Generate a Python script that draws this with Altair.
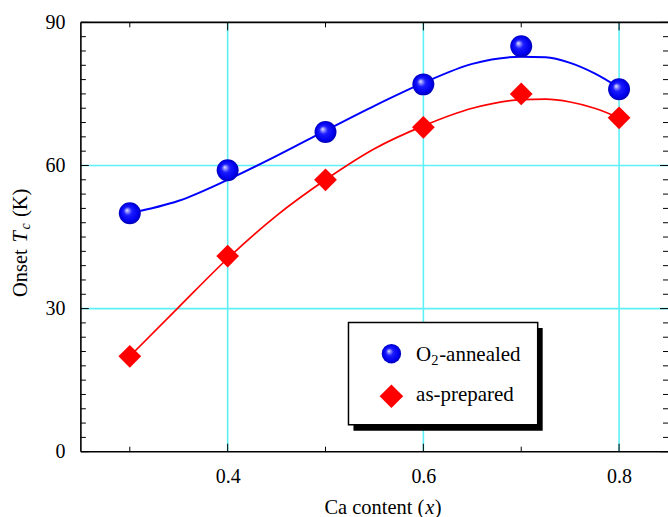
import altair as alt
import pandas as pd

# ---- data ----
ca = [0.3, 0.4, 0.5, 0.6, 0.7, 0.8]
tc_annealed = [50, 59, 67, 77, 85, 76]
tc_prepared = [20, 41, 57, 68, 75, 70]

fit_x = [0.30, 0.35, 0.40, 0.45, 0.50, 0.55, 0.60, 0.65, 0.70, 0.725, 0.75, 0.775, 0.80]
fit_annealed = [50.0, 52.6, 57.0, 62.0, 67.3, 72.5, 77.3, 81.3, 82.8, 82.7, 81.5, 79.3, 76.3]
fit_prepared = [20.0, 30.3, 40.5, 49.5, 57.0, 63.5, 68.3, 72.0, 73.8, 73.9, 73.3, 72.0, 70.0]

series = ["O2-annealed", "as-prepared"]
x_major = [0.4, 0.6, 0.8]
x_minor = [0.3, 0.5, 0.7]
y_major = [0, 30, 60, 90]
y_minor = [3, 6, 9, 12, 15, 18, 21, 24, 27, 33, 36, 39, 42, 45, 48, 51, 54, 57,
           63, 66, 69, 72, 75, 78, 81, 84, 87]
grid_x = [0.4, 0.6, 0.8]
grid_y = [30, 60]

W, H = 588, 430
FONT = "Liberation Serif"
CYAN = "#5ef0f6"

pts = pd.DataFrame({"x": ca * 2,
                    "y": tc_annealed + tc_prepared,
                    "s": [series[0]] * len(ca) + [series[1]] * len(ca)})
fit_a = pd.DataFrame({"x": fit_x, "y": fit_annealed})
fit_p = pd.DataFrame({"x": fit_x, "y": fit_prepared})
one = pd.DataFrame({"k": [0]})

xs = alt.Scale(domain=[0.25, 0.85], nice=False, zero=False)
ys = alt.Scale(domain=[0, 90], nice=False, zero=True)
xaxis = alt.Axis(values=x_major, format=".1f", grid=False, ticks=False, domain=False,
                 labelFont=FONT, labelFontSize=20, labelColor="black", labelPadding=15,
                 title=None)
yaxis = alt.Axis(values=y_major, format="d", grid=False, ticks=False, domain=False,
                 labelFont=FONT, labelFontSize=20, labelColor="black", labelPadding=16,
                 title=None)


def X(f="x"):
    return alt.X(f"{f}:Q", scale=xs, axis=xaxis)


def Y(f="y"):
    return alt.Y(f"{f}:Q", scale=ys, axis=yaxis)


sphere = alt.RadialGradient(
    gradient="radial",
    stops=[alt.GradientStop(offset=0, color="#f4f4ff"),
           alt.GradientStop(offset=0.14, color="#9a9aff"),
           alt.GradientStop(offset=0.38, color="#1c1cff"),
           alt.GradientStop(offset=0.8, color="#0000ee"),
           alt.GradientStop(offset=1, color="#0000b4")],
    x1=0.36, y1=0.36, r1=0, x2=0.5, y2=0.5, r2=0.5)

layers = []

# grid
layers.append(alt.Chart(pd.DataFrame({"x": grid_x})).mark_rule(color=CYAN, strokeWidth=1.6)
              .encode(x=X()))
layers.append(alt.Chart(pd.DataFrame({"y": grid_y})).mark_rule(color=CYAN, strokeWidth=1.6)
              .encode(y=Y()))

# ticks (inward)
for vals, ln in ((y_major, 8), (y_minor, 5)):
    d = pd.DataFrame({"y": vals})
    layers.append(alt.Chart(d).mark_rule(color="black", strokeWidth=1)
                  .encode(y=Y(), x=alt.value(0), x2=alt.value(ln)))
    layers.append(alt.Chart(d).mark_rule(color="black", strokeWidth=1)
                  .encode(y=Y(), x=alt.value(W - ln), x2=alt.value(W)))
for vals, ln in ((x_major, 8), (x_minor, 5)):
    d = pd.DataFrame({"x": vals})
    layers.append(alt.Chart(d).mark_rule(color="black", strokeWidth=1)
                  .encode(x=X(), y=alt.value(0), y2=alt.value(ln)))
    layers.append(alt.Chart(d).mark_rule(color="black", strokeWidth=1)
                  .encode(x=X(), y=alt.value(H - ln), y2=alt.value(H)))

# frame
layers.append(alt.Chart(one).mark_rule(color="black", strokeWidth=1.6)
              .encode(x=alt.value(0), y=alt.value(0), y2=alt.value(H)))
layers.append(alt.Chart(one).mark_rule(color="black", strokeWidth=1.6)
              .encode(x=alt.value(0), x2=alt.value(W), y=alt.value(0)))
layers.append(alt.Chart(one).mark_rule(color="black", strokeWidth=1.6)
              .encode(x=alt.value(0), x2=alt.value(W), y=alt.value(H)))

# fitted curves
layers.append(alt.Chart(fit_a).mark_line(color="#0000ff", strokeWidth=2, interpolate="monotone")
              .encode(x=X(), y=Y()))
layers.append(alt.Chart(fit_p).mark_line(color="#ff0000", strokeWidth=1.7, interpolate="monotone")
              .encode(x=X(), y=Y()))

# data points
layers.append(alt.Chart(pts).transform_filter(alt.datum.s == series[1])
              .mark_point(shape="diamond", filled=True, fill="#ff0000", opacity=1,
                          strokeWidth=0, size=520)
              .encode(x=X(), y=Y()))
layers.append(alt.Chart(pts).transform_filter(alt.datum.s == series[0])
              .mark_point(shape="circle", filled=True, fill=sphere, opacity=1,
                          strokeWidth=0, size=484)
              .encode(x=X(), y=Y()))

# legend box with shadow
layers.append(alt.Chart(one).mark_rect(fill="black")
              .encode(x=alt.value(273), x2=alt.value(462.5), y=alt.value(306), y2=alt.value(409)))
layers.append(alt.Chart(one).mark_rect(fill="white", stroke="black", strokeWidth=1.5)
              .encode(x=alt.value(268), x2=alt.value(457.5), y=alt.value(300.5), y2=alt.value(403)))
layers.append(alt.Chart(one).mark_point(shape="circle", filled=True, fill=sphere, opacity=1,
                                        strokeWidth=0, size=380)
              .encode(x=alt.value(311), y=alt.value(331.8)))
layers.append(alt.Chart(one).mark_point(shape="diamond", filled=True, fill="#ff0000", opacity=1,
                                        strokeWidth=0, size=560)
              .encode(x=alt.value(311), y=alt.value(374.5)))


def txt(t, x, y, size=20, style="normal", align="left", angle=0):
    kw = dict(text=t, font=FONT, fontSize=size, fontStyle=style, align=align,
              baseline="alphabetic", color="black")
    if angle:
        kw["angle"] = angle
    return alt.Chart(one).mark_text(**kw).encode(x=alt.value(x), y=alt.value(y))


leg1 = series[0]
layers.append(txt(leg1[0], 335.7, 338.7, size=21))
layers.append(txt(leg1[1], 350.8, 343.2, size=14.5))
layers.append(txt(leg1[2:], 358.8, 338.7, size=21))
layers.append(txt(series[1], 335.7, 379.7, size=21))

# axis titles
layers.append(txt("Ca content (", 344, 492, size=20.5, align="right"))
layers.append(txt("x", 345, 492, size=20.5, style="italic"))
layers.append(txt(")", 354.5, 492, size=20.5))

layers.append(txt("Onset", -53.7, 275, size=20.5, angle=270))
layers.append(txt("T", -53.7, 220.5, size=20.5, style="italic", angle=270))
layers.append(txt("c", -50.5, 207.5, size=14, style="italic", angle=270))
layers.append(txt("(K)", -53.7, 195, size=20.5, angle=270))

chart = alt.layer(*layers).properties(
    width=W, height=H,
    autosize=alt.AutoSizeParams(type="none"),
    padding={"left": 81, "top": 22, "right": 0, "bottom": 65},
    background="white",
).configure_view(stroke=None)

chart.save("out.html", embed_options={"renderer": "svg", "actions": False})
